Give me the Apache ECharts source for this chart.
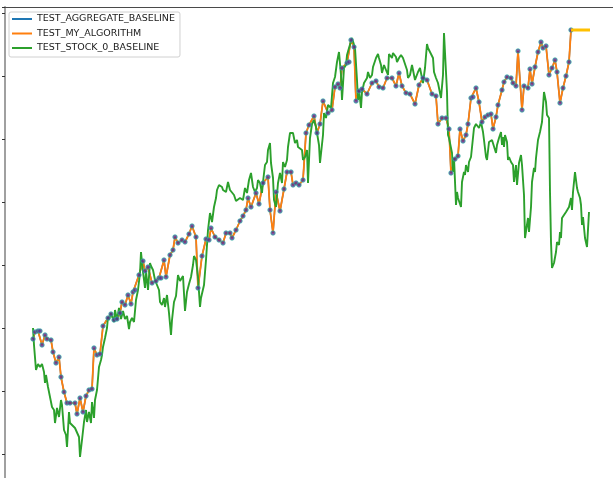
<!DOCTYPE html>
<html>
<head>
<meta charset="utf-8">
<script src="https://cdn.jsdelivr.net/npm/echarts@6/dist/echarts.min.js"></script>
<style>
  html, body { margin: 0; padding: 0; background: #fff; overflow: hidden; }
  #chart { width: 613px; height: 478px; }
</style>
</head>
<body>
<div id="chart"></div>
<script>
// Trading day index and value for each series
const algoDays = [1,3,6,8,10,13,15,19,21,24,27,29,32,35,38,43,45,48,51,54,57,60,62,65,68,71,76,79,82,85,88,90,93,96,99,101,103,107,111,113,116,120,124,127,129,132,134,138,141,143,146,150,153,157,160,164,166,170,174,177,179,183,187,191,194,198,200,204,208,211,214,216,219,224,227,231,236,238,241,244,248,252,255,259,261,264,267,271,274,277,282,285,288,291,296,300,303,306,308,310,315,317,319,322,324,327,330,335,340,344,347,351,355,360,364,367,370,374,378,383,387,391,395,400,404,406,410,414,417,419,423,426,428,431,434,436,439,441,444,447,450,453,456,459,461,464,466,470,472,475,479,481,484,486,490,492,496,498,500,503,506,509,511,514,517,520,523,525,528,531,534,537,539];
const algoVals = [115,122,123,123,109,119,115,114,102,91,97,77,62,51,51,51,40,56,42,58,64,65,106,99,100,128,136,140,134,135,141,152,149,159,150,162,164,179,193,183,187,171,173,176,176,194,177,199,204,217,211,214,212,220,228,217,166,198,215,214,226,217,214,211,221,221,216,224,233,238,244,256,247,261,250,271,277,244,221,262,243,265,282,282,269,271,269,274,321,329,338,321,330,353,341,344,367,370,366,386,391,392,414,407,353,363,365,360,371,373,367,366,376,376,368,381,368,361,360,350,369,376,374,360,358,330,336,336,325,281,295,298,325,313,319,330,356,357,366,352,332,337,339,340,325,337,349,364,372,377,376,371,368,403,344,368,366,385,370,387,402,412,406,408,379,386,394,382,351,366,378,392,424];
// Aggregate baseline tracks the algorithm closely and sits underneath it
const aggDays = algoDays;
const aggVals = algoVals;
// Final holding period after the last rebalance
const holdDays = [539,558];
const holdVals = [424,424];

const stockDays = [1,2,4,6,8,10,12,13,14,16,18,20,22,23,25,27,29,30,32,34,35,37,38,40,43,45,47,48,50,52,54,55,57,59,60,62,63,65,67,69,70,71,73,75,76,77,79,80,82,83,85,87,89,91,93,95,97,98,100,102,104,106,108,109,111,113,114,116,118,119,121,123,125,127,128,130,132,133,135,137,139,140,142,144,146,148,151,153,155,157,159,161,162,164,166,168,169,172,174,176,178,180,182,184,185,187,190,191,194,196,198,200,202,204,206,208,211,213,215,217,219,221,223,225,226,228,230,231,233,235,236,238,239,241,242,244,246,248,250,251,253,255,256,258,260,261,263,265,266,268,270,271,273,275,276,278,280,282,284,286,287,288,291,292,294,296,299,301,303,305,307,309,310,312,314,315,317,320,321,323,325,326,327,329,330,332,335,336,338,340,341,344,346,347,349,350,352,354,356,357,360,361,364,365,367,369,371,373,375,376,378,380,381,383,385,386,388,390,391,393,395,396,398,399,401,402,404,406,407,409,411,412,414,415,416,417,419,420,421,422,424,425,426,428,429,430,432,433,434,436,437,439,440,442,444,446,447,449,451,452,454,455,457,459,460,462,464,465,467,469,470,471,472,473,475,476,477,479,481,482,484,485,487,489,490,492,493,494,496,497,499,500,502,503,504,506,507,508,510,511,512,514,515,517,518,519,520,522,524,525,527,528,529,530,532,534,535,537,539,540,541,543,545,546,548,549,550,551,553,555,556,557];
const stockVals = [126,109,84,90,87,90,82,71,79,67,66,47,44,31,46,37,54,49,24,19,7,42,31,29,26,25,17,-3,14,32,44,32,42,31,52,36,54,64,87,94,99,107,116,126,137,134,141,142,132,144,134,146,135,143,135,138,125,132,136,132,154,164,181,202,182,166,183,164,191,188,184,174,172,164,152,149,156,147,159,141,119,134,152,158,179,173,178,143,162,170,177,189,198,194,177,147,156,169,194,224,241,232,247,256,264,269,267,264,262,272,264,265,259,253,251,256,254,266,261,274,281,267,262,266,274,271,261,272,289,292,304,311,291,276,254,247,271,281,271,292,287,294,307,321,323,321,311,314,307,309,304,294,297,304,271,316,330,334,327,329,309,291,319,341,336,349,346,371,377,392,402,379,354,386,389,399,406,416,414,406,374,354,364,346,362,371,376,382,376,379,387,396,400,396,389,381,389,384,379,400,396,401,397,392,396,399,396,394,384,376,379,389,384,374,372,382,386,376,371,386,410,406,402,404,396,382,376,371,366,356,379,421,422,362,319,316,306,301,282,296,249,262,256,257,247,272,282,279,289,282,292,297,299,326,330,332,326,332,322,314,297,294,312,311,314,316,301,309,316,322,309,317,307,319,312,294,297,292,289,272,289,269,291,299,289,259,216,214,236,222,247,272,286,282,296,314,312,322,332,347,362,352,339,336,262,212,186,191,202,212,209,222,216,236,234,242,244,247,256,244,262,282,266,262,256,249,229,237,216,207,206,242];

const zip = (xs, ys) => xs.map((x, i) => [x, ys[i]]);

const chart = echarts.init(document.getElementById('chart'), null, { renderer: 'canvas' });

chart.setOption({
  animation: false,
  backgroundColor: '#ffffff',
  // plot area runs past the bottom edge of the page
  grid: { left: 5, width: 608, top: 7, height: 510, outerBoundsMode: 'none', containLabel: false },
  xAxis: {
    type: 'value',
    position: 'top',
    min: -27,
    max: 581,
    axisLine: { show: true, onZero: false, lineStyle: { color: '#4a4a4a', width: 1 } },
    axisTick: { show: false },
    axisLabel: { show: false },
    splitLine: { show: false }
  },
  yAxis: {
    type: 'value',
    min: -63,
    max: 447,
    interval: 63,
    axisLine: { show: true, onZero: false, lineStyle: { color: '#a0a0a0', width: 2 } },
    axisTick: { show: true, length: 3, lineStyle: { color: '#333', width: 1 } },
    axisLabel: { show: false },
    splitLine: { show: false }
  },
  legend: {
    orient: 'vertical',
    left: 9,
    top: 12,
    padding: [1, 5, 3, 3],
    itemGap: 2.5,
    itemWidth: 20,
    itemHeight: 2,
    icon: 'rect',
    backgroundColor: 'rgba(255,255,255,0.85)',
    borderColor: '#d0d0d0',
    borderWidth: 1,
    borderRadius: 2,
    textStyle: { fontFamily: 'DejaVu Sans', fontSize: 9.5, lineHeight: 12, color: '#1a1a1a' },
    data: ['TEST_AGGREGATE_BASELINE', 'TEST_MY_ALGORITHM', 'TEST_STOCK_0_BASELINE']
  },
  series: [
    {
      name: 'TEST_AGGREGATE_BASELINE',
      type: 'line',
      data: zip(aggDays, aggVals),
      showSymbol: false,
      symbol: 'none',
      color: '#1f77b4',
      lineStyle: { width: 1.5 },
      z: 2
    },
    {
      name: 'TEST_MY_ALGORITHM',
      type: 'line',
      data: zip(algoDays, algoVals),
      showSymbol: false,
      symbol: 'none',
      color: '#ff7f0e',
      lineStyle: { width: 1.8 },
      z: 3
    },
    {
      name: 'TEST_STOCK_0_BASELINE',
      type: 'line',
      data: zip(stockDays, stockVals),
      showSymbol: false,
      symbol: 'none',
      color: '#2ca02c',
      lineStyle: { width: 1.9 },
      z: 4
    },
    {
      name: 'rebalance',
      type: 'scatter',
      data: zip(algoDays, algoVals),
      symbol: 'circle',
      symbolSize: 4.5,
      itemStyle: { color: '#5b2a8e', borderColor: '#2fb8a6', borderWidth: 0.9 },
      z: 5
    },
    {
      name: 'hold',
      type: 'line',
      data: zip(holdDays, holdVals),
      showSymbol: false,
      symbol: 'none',
      color: '#ffc000',
      lineStyle: { width: 3 },
      z: 6
    }
  ]
});
</script>
</body>
</html>
